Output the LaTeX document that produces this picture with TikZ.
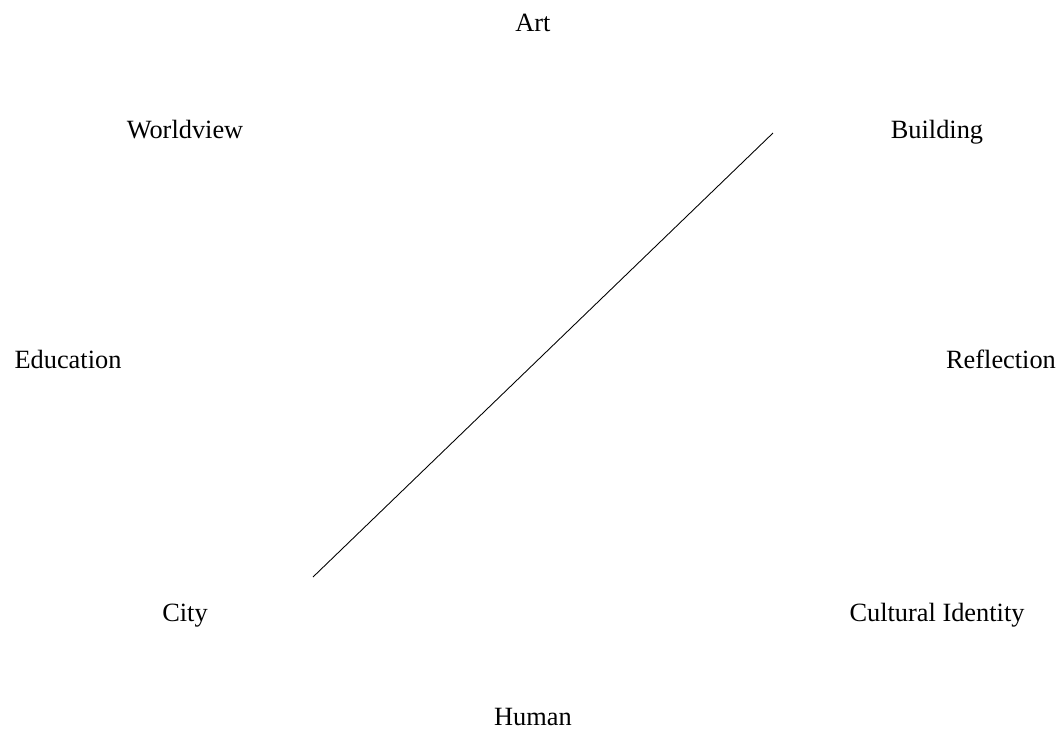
\documentclass[tikz,border=0pt]{standalone}
\usepackage{fontspec}
\setmainfont{Liberation Serif}
\usetikzlibrary{positioning}

\begin{document}
\begin{tikzpicture}[
  x=0.02cm, y=-0.02cm,
  font=\fontsize{15}{18}\selectfont,
  lbl/.style={inner sep=0pt, anchor=base}
]
\useasboundingbox (0,0) rectangle (1063,735);
\node[lbl] (art) at (533,31) {Art};
\node[lbl] (world) at (185,138) {Worldview};
\node[lbl] (build) at (937,138) {Building};
\node[lbl] (edu) at (68,368) {Education};
\node[lbl] (refl) at (1001,368) {Reflection};
\node[lbl] (city) at (185,621) {City};
\node[lbl] (ident) at (937,621) {Cultural Identity};
\node[lbl] (human) at (533,725) {Human};
\coordinate (top) at (773,133);
\coordinate (bot) at (313,577);
\draw[line width=0.5pt] (top) -- (bot);
\end{tikzpicture}
\end{document}
